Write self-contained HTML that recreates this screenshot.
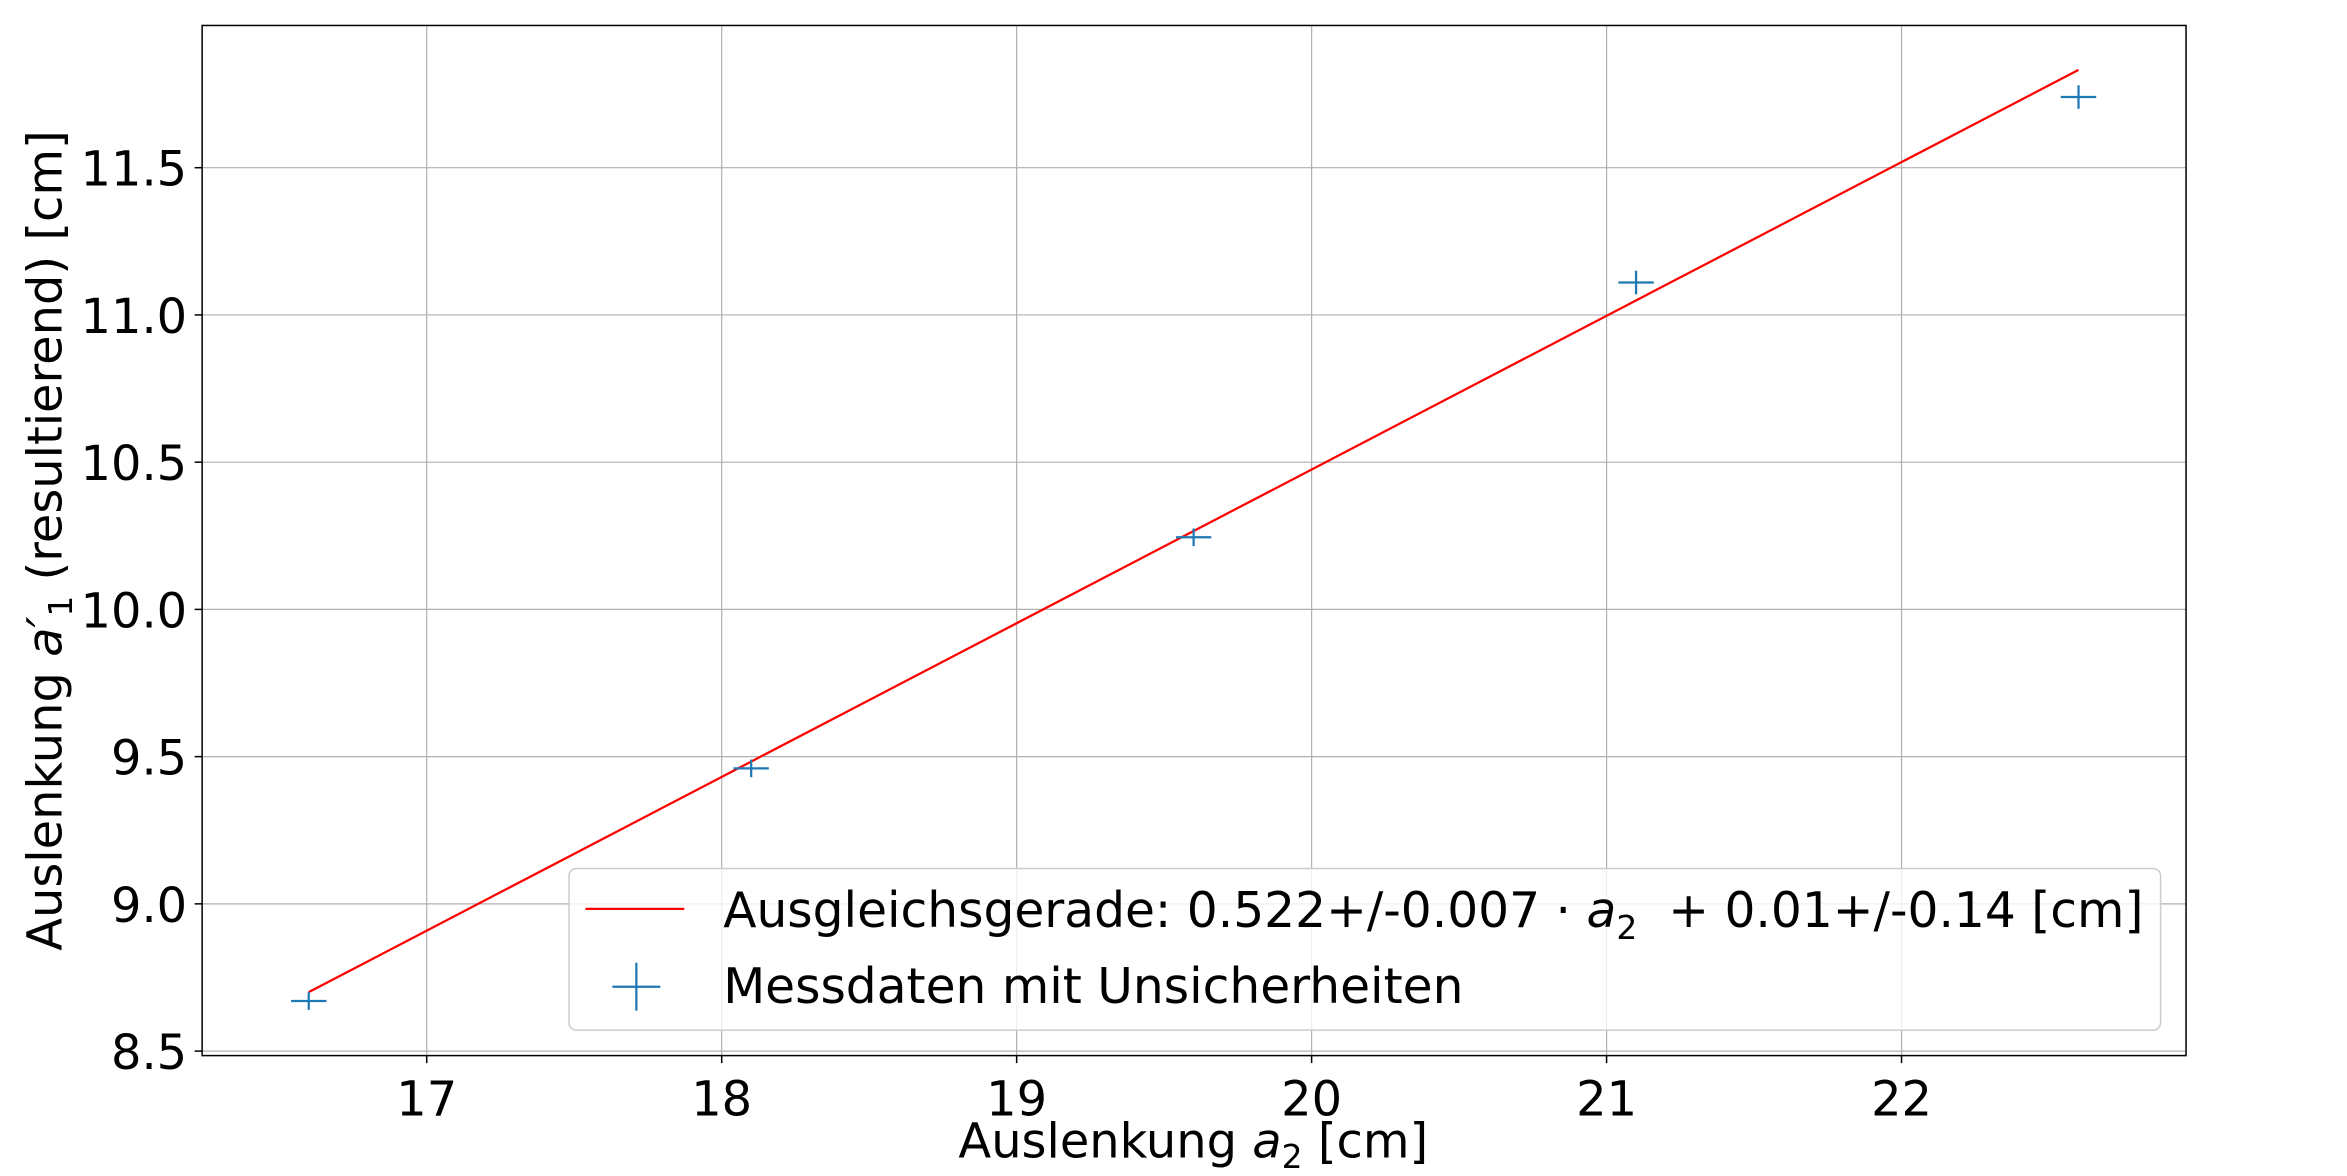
<!DOCTYPE html>
<html><head><meta charset="utf-8"><style>
html,body{margin:0;padding:0;background:#fff;}
svg{display:block;font-family:"DejaVu Sans","Liberation Sans",sans-serif;}
</style></head><body>
<svg id="chart" width="2347" height="1176" viewBox="0 0 1567.5 785.4" xmlns="http://www.w3.org/2000/svg">
<rect width="1567.5" height="785.4" fill="#fff"/>
<g id="grid"></g>
<g id="marks"></g>
<rect x="135" y="17" width="1325" height="688" fill="none" stroke="#000" stroke-width="1"/>
<g id="ticks"></g>
<g>
<rect x="380" y="580" width="1063" height="108" rx="5" fill="#fff" fill-opacity="0.8" stroke="#ccc" stroke-width="1"/>
<line x1="391" y1="607" x2="457" y2="607" stroke="#ff0000" stroke-width="1.5"/>
<text x="483" y="619" font-size="32.5" xml:space="preserve">Ausgleichsgerade: 0.522+/-0.007 · <tspan font-style="italic">a</tspan><tspan font-size="22" dy="8">2</tspan><tspan dy="-8">  + 0.01+/-0.14 [cm]</tspan></text>
<line x1="409" y1="659" x2="441" y2="659" stroke="#1f77b4" stroke-width="1.5"/>
<line x1="425" y1="643" x2="425" y2="675" stroke="#1f77b4" stroke-width="1.5"/>
<text x="483" y="670" font-size="32.5">Messdaten mit Unsicherheiten</text>
</g>
<text x="797" y="773" font-size="32" text-anchor="middle">Auslenkung <tspan font-style="italic">a</tspan><tspan font-size="22" dy="7">2</tspan><tspan dy="-7"> [cm]</tspan></text>
<text transform="translate(41,361) rotate(-90)" font-size="32" text-anchor="middle">Auslenkung <tspan font-style="italic">a′</tspan><tspan font-size="22" dy="7">1</tspan><tspan dy="-7"> (resultierend) [cm]</tspan></text>
</svg>
<script>
const xVals = [16.6, 18.1, 19.6, 21.1, 22.6];
const yVals = [8.67, 9.46, 10.245, 11.11, 11.74];
const xErr = [0.06, 0.06, 0.06, 0.06, 0.06];
const yErr = [0.03, 0.03, 0.03, 0.04, 0.04];
const fitSlope = 0.522;
const fitIntercept = 0.035;
const xTicks = [17, 18, 19, 20, 21, 22];
const yTicks = [8.5, 9.0, 9.5, 10.0, 10.5, 11.0, 11.5];
const yTickLabels = ["8.5", "9.0", "9.5", "10.0", "10.5", "11.0", "11.5"];

const L=135,R=1460,T=17,B=705;
const X0=16.2386,X1=22.9645,Y0=8.4847,Y1=11.983;
const sx=v=>L+(v-X0)/(X1-X0)*(R-L);
const sy=v=>B-(v-Y0)/(Y1-Y0)*(B-T);
const NS="http://www.w3.org/2000/svg";
function mk(tag,attrs,parent){const e=document.createElementNS(NS,tag);for(const k in attrs)e.setAttribute(k,attrs[k]);parent.appendChild(e);return e;}
const grid=document.getElementById('grid'),ticks=document.getElementById('ticks'),marks=document.getElementById('marks');
xTicks.forEach(v=>{
  const x=sx(v);
  const g=mk('line',{x1:x,y1:T,x2:x,y2:B,stroke:'#b0b0b0','stroke-width':0.8},grid);
  
  
  const t=mk('line',{x1:x,y1:B,x2:x,y2:B+5,stroke:'#000','stroke-width':1},ticks);
  
  
  const l=mk('text',{x:x,y:B+40,'font-size':32,'text-anchor':'middle'},ticks);
  l.textContent=String(v);
  
  
});
yTicks.forEach((v,i)=>{
  const y=sy(v);
  const g=mk('line',{x1:L,y1:y,x2:R,y2:y,stroke:'#b0b0b0','stroke-width':0.8},grid);
  
  
  const t=mk('line',{x1:L-5,y1:y,x2:L,y2:y,stroke:'#000','stroke-width':1},ticks);
  
  
  const l=mk('text',{x:L-10,y:y+12,'font-size':32,'text-anchor':'end'},ticks);
  l.textContent=yTickLabels[i];
  
  
});
const xa=xVals[0],xb=xVals[xVals.length-1];
const fit=mk('line',{x1:sx(xa),y1:sy(fitSlope*xa+fitIntercept),x2:sx(xb),y2:sy(fitSlope*xb+fitIntercept),stroke:'#ff0000','stroke-width':1.5},marks);


xVals.forEach((xv,i)=>{
  const yv=yVals[i];
  const h=mk('line',{x1:sx(xv-xErr[i]),y1:sy(yv),x2:sx(xv+xErr[i]),y2:sy(yv),stroke:'#1f77b4','stroke-width':1.5},marks);
  
  
  const v=mk('line',{x1:sx(xv),y1:sy(yv-yErr[i]),x2:sx(xv),y2:sy(yv+yErr[i]),stroke:'#1f77b4','stroke-width':1.5},marks);
  
  
});
</script>
</body></html>
